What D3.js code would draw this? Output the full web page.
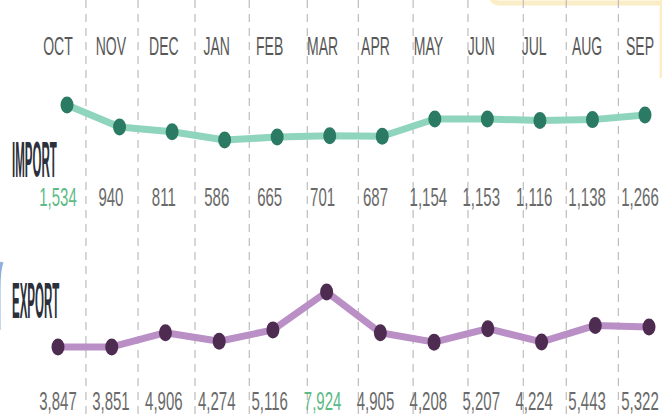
<!DOCTYPE html>
<html>
<head>
  <script src="https://cdnjs.cloudflare.com/ajax/libs/d3/7.8.5/d3.min.js"></script>
  <style>
    body { margin: 0; background: #fff; }
    text { font-family: "Liberation Sans", Arial, sans-serif; }
  </style>
</head>
<body>
<script>
  const months = ["OCT", "NOV", "DEC", "JAN", "FEB", "MAR", "APR", "MAY", "JUN", "JUL", "AUG", "SEP"];
  const imports = [1534, 940, 811, 586, 665, 701, 687, 1154, 1153, 1116, 1138, 1266];
  const exports = [3847, 3851, 4906, 4274, 5116, 7924, 4905, 4208, 5207, 4224, 5443, 5322];
  // divider spots between months, as fractional month index
  const dividers = [0.52, 1.49, 2.55, 3.56, 4.64, 5.59, 6.61, 7.63, 8.66, 9.46, 10.43];
  const highlightImport = 0;  // OCT
  const highlightExport = 5;  // MAR

  const w = 662, h = 419;
  const fmt = d3.format(",");

  const svg = d3.select("body").append("svg")
    .attr("width", w)
    .attr("height", h);

  const xImp = d3.scaleLinear().domain([0, 11]).range([67, 645]);
  const xExp = d3.scaleLinear().domain([0, 11]).range([58, 649]);
  const xLab = d3.scaleLinear().domain([0, 11]).range([58, 640]);
  const yImp = d3.scaleLinear().domain([586, 1534]).range([140, 105]);
  const yExp = d3.scaleLinear().domain([3847, 7924]).range([347, 292]);

  // yellow box corner, top right
  svg.append("rect")
    .attr("x", 491).attr("y", -120)
    .attr("width", 220).attr("height", 123)
    .attr("rx", 8)
    .attr("fill", "none")
    .attr("stroke", "#fbeec6")
    .attr("stroke-width", 5);
  svg.append("line")
    .attr("x1", 661).attr("x2", 661)
    .attr("y1", 0).attr("y2", 78)
    .attr("stroke", "#fbeec6")
    .attr("stroke-width", 3);

  // blue box edge, left
  svg.append("path")
    .attr("d", "M2,262 Q-1,270 -1,290 L-1,330")
    .attr("fill", "none")
    .attr("stroke", "#8fb0dd")
    .attr("stroke-width", 3);

  svg.selectAll(".divider")
    .data(dividers)
    .enter()
    .append("line")
    .attr("class", "divider")
    .attr("x1", (d) => xExp(d))
    .attr("x2", (d) => xExp(d))
    .attr("y1", 0)
    .attr("y2", h)
    .attr("stroke", "#bdbdbd")
    .attr("stroke-width", 1.2)
    .attr("stroke-dasharray", "8,6");

  // month labels
  svg.selectAll(".month")
    .data(months)
    .enter()
    .append("text")
    .attr("class", "month")
    .attr("transform", (d, i) => "translate(" + xLab(i) + ",55) scale(0.56,1)")
    .attr("text-anchor", "middle")
    .attr("font-size", 25)
    .attr("fill", "#585858")
    .text((d) => d);

  // series titles
  svg.append("text")
    .attr("transform", "translate(12,177) scale(0.245,1.05)")
    .attr("font-size", 47)
    .attr("font-weight", "bold")
    .attr("fill", "#2b303a")
    .text("IMPORT");

  svg.append("text")
    .attr("transform", "translate(12,318) scale(0.245,1.05)")
    .attr("font-size", 47)
    .attr("font-weight", "bold")
    .attr("fill", "#2b303a")
    .text("EXPORT");

  function drawSeries(vals, x, y, lineColor, dotColor) {
    const line = d3.line()
      .x((d, i) => x(i))
      .y((d) => y(d));

    svg.append("path")
      .datum(vals)
      .attr("d", line)
      .attr("fill", "none")
      .attr("stroke", lineColor)
      .attr("stroke-width", 7)
      .attr("stroke-linejoin", "round");

    svg.append("g")
      .selectAll("ellipse")
      .data(vals)
      .enter()
      .append("ellipse")
      .attr("cx", (d, i) => x(i))
      .attr("cy", (d) => y(d))
      .attr("rx", 6.5)
      .attr("ry", 8.5)
      .attr("fill", dotColor);
  }

  drawSeries(imports, xImp, yImp, "#8fd5bd", "#2b7a63");
  drawSeries(exports, xExp, yExp, "#b98fc6", "#4e2b50");

  function drawValues(vals, baseline, hi) {
    svg.append("g")
      .selectAll("text")
      .data(vals)
      .enter()
      .append("text")
      .attr("transform", (d, i) => "translate(" + xLab(i) + "," + baseline + ") scale(0.6,1)")
      .attr("text-anchor", "middle")
      .attr("font-size", 25)
      .attr("fill", (d, i) => i === hi ? "#5dbb85" : "#6a6a6a")
      .text((d) => fmt(d));
  }

  drawValues(imports, 206, highlightImport);
  drawValues(exports, 410, highlightExport);
</script>
</body>
</html>
